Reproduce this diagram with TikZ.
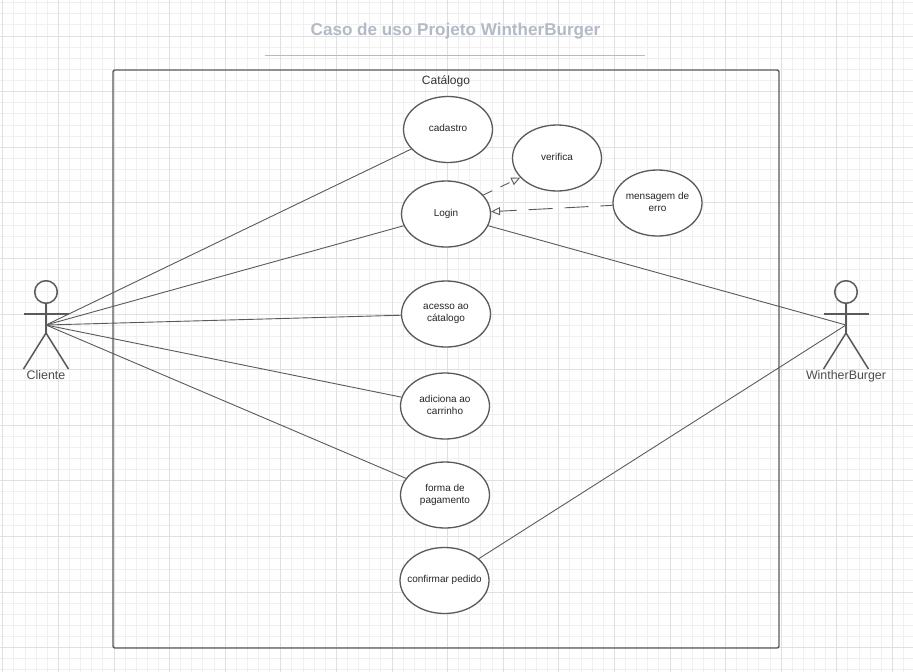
\documentclass[tikz,border=0pt]{standalone}
\usepackage{fontspec}
\setmainfont{Liberation Sans}
\usetikzlibrary{arrows.meta, shapes.geometric}
\definecolor{linegray}{HTML}{5A5A5A}
\definecolor{titlegray}{HTML}{B3BAC5}
\tikzset{
    usecase/.style={ellipse, draw=linegray, line width=1.3pt, fill=white, minimum width=89pt, minimum height=66pt, inner sep=0pt, inner xsep=-6pt, align=center, font=\fontsize{10}{12}\selectfont, text=black!85, execute at end node={\rule[-2.5pt]{0pt}{2.5pt}}}, % the use cases
    assoc/.style={draw=linegray, line width=0.9pt},
    depend/.style={assoc, -{Triangle[open, length=9pt, width=8pt]}},
    limb/.style={draw=linegray, line width=1.5pt},
    actorname/.style={font=\fontsize{12.4}{14}\selectfont, text=black!70, anchor=base},
    minorgrid/.style={draw=black!6, line width=0.8pt},
    majorgrid/.style={draw=black!12, line width=0.8pt},
}
\newcommand{\stickman}[1]{
    \draw[limb] (#1,292) circle (11.3);
    \draw[limb] (#1,303.3) -- (#1,333);
    \draw[limb] (#1-22.5,314) -- (#1+22.5,314);
    \draw[limb] (#1-22.5,369) -- (#1,333) -- (#1+22.5,369);
}
\begin{document}
\begin{tikzpicture}[x=1pt,y=-1pt]
    \useasboundingbox (0,0) rectangle (913,672);
    \fill[white] (0,0) rectangle (913,672);
    % grid
    \foreach \i in {0,...,82} \draw[minorgrid] ({2.7+\i*11.12},0) -- ({2.7+\i*11.12},672);
    \foreach \i in {0,...,60} \draw[minorgrid] (0,{2.6+\i*11.12}) -- (913,{2.6+\i*11.12});
    \foreach \i in {0,...,16} \draw[majorgrid] ({2.7+\i*55.6},0) -- ({2.7+\i*55.6},672);
    \foreach \i in {0,...,11} \draw[majorgrid] (0,{36+\i*55.6}) -- (913,{36+\i*55.6});

    % title
    \node[font=\fontsize{17.1}{22}\selectfont\bfseries, text=titlegray] (title) at (455.5,31) {Caso de uso Projeto WintherBurger};
    \coordinate (ruleA) at (265,55);
    \coordinate (ruleB) at (645,55);
    \draw[titlegray, line width=0.9pt] (ruleA) -- (ruleB);

    % system boundary
    \node[draw=linegray, line width=1.4pt, rounded corners=2pt, minimum width=666pt, minimum height=578pt, inner sep=0pt] (catalogo) at (446,359) {};
    \node[font=\fontsize{12}{14}\selectfont, text=black!80] (catalogotxt) at (446,81) {Catálogo};

    % actors
    \stickman{46}
    \stickman{846}
    \coordinate (cliente) at (46,325);
    \coordinate (winther) at (846,325);
    \node[actorname] (clientetxt) at (46,379) {Cliente};
    \node[actorname] (winthertxt) at (846,379) {WintherBurger};

    % use cases
    \node[usecase] (cadastro) at (448,129.5) {cadastro};
    \node[usecase] (login) at (446,214) {Login};
    \node[usecase] (verifica) at (557,158) {verifica};
    \node[usecase] (mensagem) at (657.5,203) {mensagem de\\erro};
    \node[usecase] (acesso) at (446,314) {acesso ao\\cátalogo};
    \node[usecase] (adiciona) at (445,406) {adiciona ao\\carrinho};
    \node[usecase] (forma) at (445,495) {forma de\\pagamento};
    \node[usecase] (confirmar) at (444.5,580.5) {confirmar pedido};

    \draw[assoc] (cliente) -- (cadastro.208);
    \draw[assoc] (cliente) -- (login);
    \draw[assoc] (cliente) -- (acesso);
    \draw[assoc] (cliente) -- (adiciona);
    \draw[assoc] (cliente) -- (forma);
    \draw[assoc] (login) -- (winther);
    \draw[assoc] (confirmar) -- (winther);
    \draw[depend, dash pattern=on 10pt off 9pt] (login.27) -- (verifica.208);
    \draw[depend, dash pattern=on 24pt off 12pt, dash phase=12pt] (mensagem) -- (login);
\end{tikzpicture}
\end{document}
